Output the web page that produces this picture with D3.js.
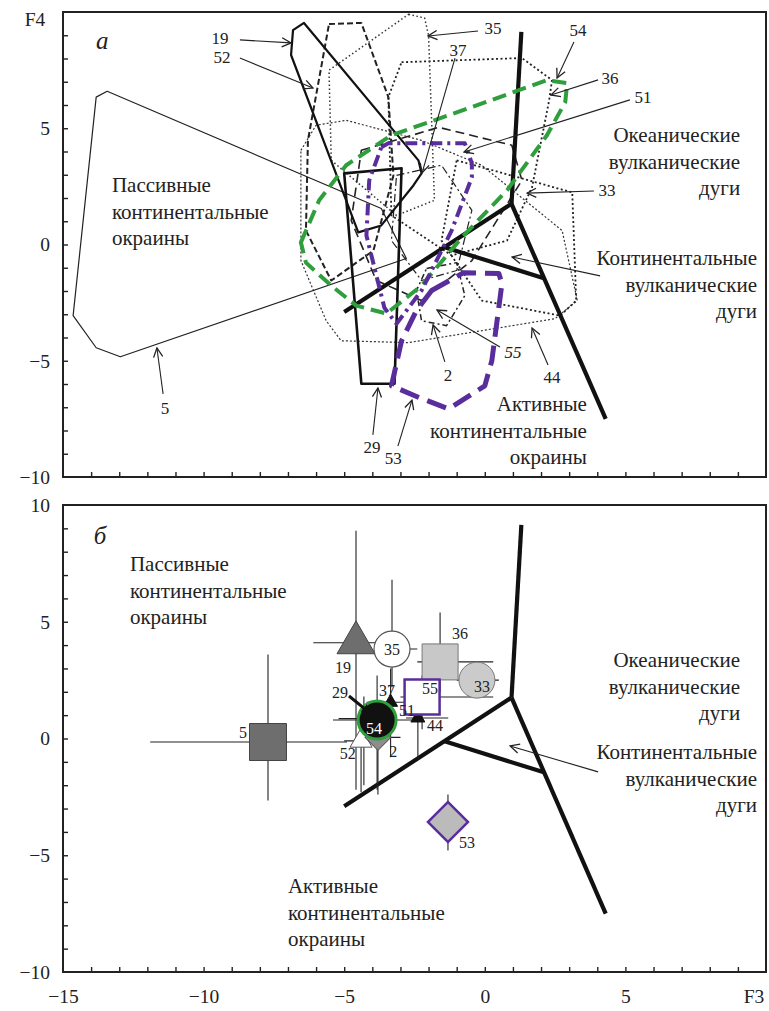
<!DOCTYPE html>
<html><head><meta charset="utf-8">
<script src="https://cdn.jsdelivr.net/npm/d3@7"></script>
<style>
body{margin:0;background:#fff}
svg{display:block}
svg text{font-family:"Liberation Serif","Tinos","DejaVu Serif","Times New Roman",serif !important;fill:#222}
</style>
</head><body>
<svg id="c" width="769" height="1011" font-family="Liberation Serif, DejaVu Serif, serif"></svg>
<script>
// ---------------- DATA ----------------
const xTickLabelValues = [-15, -10, -5, 0, 5];
const yTickLabelsA = [-10, -5, 0, 5];
const yTickLabelsB = [-10, -5, 0, 5, 10];
const axisTitles = ["F3", "F4"];

// discriminant boundaries (same in both panels)
const boundaryLines = [
  [[-5.0, -2.9], [0.95, 1.75]],
  [[0.95, 1.75], [1.3, 9.15]],
  [[0.95, 1.75], [4.3, -7.5]],
  [[-1.43, -0.12], [2.1, -1.45]]
];

// field outlines, panel a
const poly5  = [[-13.82,6.34],[-13.43,6.59],[-3.68,1.55],[-2.79,-0.6],[-12.96,-4.83],[-13.82,-4.44],[-14.64,-3.06]];
const poly19 = [[-6.43,9.53],[-6.82,9.22],[-6.89,8.15],[-4.5,0.52],[-3.68,0.82],[-2.54,2.54],[-2.25,3.06],[-2.36,3.62]];
const poly52 = [[-5.54,9.48],[-4.39,9.53],[-3.43,6.34],[-3.25,2.97],[-3.96,-0.26],[-5.46,-1.55],[-6.36,0.6],[-6.29,4.48]];
const poly35 = [[-2.71,9.9],[-2.14,9.74],[-2.0,9.0],[-1.79,1.9],[-3.14,1.25],[-5.46,3.62],[-5.54,7.5]];
const poly36 = [[-2.96,7.84],[1.32,8.02],[2.39,7.07],[2.29,6.21],[1.68,2.46],[0.79,0.17],[-1.18,-0.47],[-3.32,1.25],[-3.43,6.34]];
const poly33 = [[-1.0,3.62],[3.11,2.24],[3.25,-2.41],[2.68,-3.06],[-0.11,-2.41],[-1.54,0.17]];
const poly44 = [[-6.54,4.05],[-6.0,5.13],[-4.93,5.34],[-2.25,4.48],[-0.11,3.41],[2.75,0.6],[3.29,-2.41],[2.5,-3.19],[-2.71,-4.22],[-5.11,-4.14],[-5.64,-3.28],[-6.54,-0.69]];
const poly37 = [[-4.39,4.05],[-1.64,5.04],[0.96,4.27],[1.32,2.76],[-0.46,-0.69],[-2.25,-2.41],[-3.86,-1.55],[-4.75,1.03]];
const poly51 = [[-3.14,2.97],[-1.54,3.41],[-0.46,1.47],[-1.0,-1.12],[-2.25,-1.55],[-3.32,0.17]];
const poly2  = [[-2.07,-1.03],[-1.0,-0.78],[-0.71,-2.2],[-1.36,-3.49],[-2.25,-3.28],[-2.43,-1.98]];
const poly29 = [[-5.0,3.06],[-2.96,3.28],[-3.21,-5.99],[-4.39,-5.99]];
const poly54 = [[-6.54,0.09],[-5.89,1.9],[-4.93,3.41],[-3.32,4.7],[-0.46,5.91],[2.21,7.07],[2.93,6.94],[2.86,6.12],[2.21,4.7],[0.79,2.33],[-0.82,0.3],[-2.25,-1.77],[-3.5,-2.97],[-4.57,-2.63],[-5.46,-1.77],[-6.36,-0.78]];
const poly55 = [[-3.68,4.18],[-3.43,4.35],[-0.71,4.35],[-0.46,3.49],[-0.46,2.89],[-1.18,0.6],[-2.25,-1.98],[-3.14,-3.41],[-3.57,-2.72],[-4.21,0.39],[-4.11,2.76]];
const poly53 = [[-1.89,-1.98],[-0.75,-1.21],[0.5,-1.25],[0.61,-1.68],[0.25,-5.0],[0.0,-6.08],[-1.29,-7.07],[-2.32,-6.59],[-3.32,-6.08],[-2.96,-4.14],[-2.43,-2.84]];

const fieldIds = ["44","33","36","35","52","37","51","2","5","19","29","54","55","53"];
const fieldData = {"5":poly5,"19":poly19,"52":poly52,"35":poly35,"36":poly36,"33":poly33,"44":poly44,"37":poly37,"51":poly51,"2":poly2,"29":poly29,"54":poly54,"55":poly55,"53":poly53};

// panel a sample labels with pointers: [label, labelX, labelY, tailX, tailY, headX, headY]
const labelsA = [
  ["19", -9.42, 8.88, -8.71, 8.8, -6.89, 8.67],
  ["52", -9.35, 8.06, -8.71, 8.02, -6.11, 6.73],
  ["35", 0.29, 9.31, -0.24, 9.18, -2.02, 8.97],
  ["37", -0.95, 8.37, -1.06, 8.02, -2.23, 3.08],
  ["54", 3.31, 9.23, 3.17, 8.71, 2.57, 7.16],
  ["36", 4.45, 7.16, 4.03, 7.08, 2.35, 6.43],
  ["51", 5.63, 6.34, 5.16, 6.22, -0.74, 3.98],
  ["33", 4.35, 2.34, 3.88, 2.3, 1.5, 2.21],
  ["55", 1.0, -4.62, 0.54, -4.41, -1.7, -2.82],
  ["44", 2.39, -5.7, 2.25, -5.18, 1.68, -3.59],
  ["2", -1.31, -5.61, -1.42, -5.05, -1.84, -3.46],
  ["29", -4.01, -8.71, -3.98, -8.19, -3.8, -6.17],
  ["53", -3.26, -9.18, -3.09, -8.67, -2.59, -6.69],
  ["5", -11.37, -7.03, -11.44, -6.43, -11.66, -4.45]
];

// region names
const regionNames = [
  ["Пассивные", "континентальные", "окраины"],
  ["Океанические", "вулканические", "дуги"],
  ["Континентальные", "вулканические", "дуги"],
  ["Активные", "континентальные", "окраины"]
];
const regionPosA = [[-13.26, 2.56], [9.08, 4.71], [9.68, -0.58], [3.63, -6.86]];
const regionPosB = [[-12.62, 7.47], [9.08, 3.36], [9.68, -0.58], [-7.0, -6.32]];
const contArrowA = [4.1, -1.35, 0.97, -0.54];
const contArrowB = [4.03, -1.43, 0.9, -0.32];

// panel б: mean compositions with ranges
const ptIds  = ["5", "19", "35", "36", "33", "29", "52", "37", "44", "2", "55", "54", "53"];
const ptX    = [-7.71, -4.58, -3.30, -1.59, -0.28, -4.30, -4.40, -3.35, -2.38, -3.80, -2.23, -3.83, -1.31];
const ptY    = [-0.15, 4.10, 3.83, 3.28, 2.50, 0.85, -0.10, 1.55, 0.88, 0.05, 1.78, 0.79, -3.58];
const ptXLo  = [-11.9, -6.1, -3.9, -2.4, -1.0, -5.2, -5.0, -4.2, -2.8, -4.5, -3.0, -5.4, -1.6];
const ptXHi  = [-4.9, -3.0, -2.4, 0.3, 0.5, -4.0, -3.7, -2.8, -1.3, -3.0, 0.3, -2.5, -1.0];
const ptYLo  = [-2.65, -2.2, 2.2, 2.0, 2.0, -2.0, -2.3, -0.8, -0.9, -2.4, 0.4, -2.2, -4.8];
const ptYHi  = [3.6, 8.9, 6.8, 5.4, 3.0, 1.8, 1.0, 3.0, 2.1, 0.5, 2.7, 2.7, -2.4];
// label positions of the panel б numbers
const ptLabX = [-8.6, -5.04, -3.30, -0.88, -0.10, -5.15, -4.87, -3.48, -1.77, -3.26, -1.95, -3.94, -0.63];
const ptLabY = [0.28, 3.06, 3.83, 4.52, 2.25, 1.99, -0.62, 2.08, 0.58, -0.54, 2.16, 0.45, -4.43];
const label51 = ["51", -2.77, 1.22];
const arrow29 = [-4.83, 1.82, -4.08, 1.09];

// ---------------- STYLES ----------------
const FONT = '"Liberation Serif","Tinos","DejaVu Serif","Times New Roman",serif';
const GREEN = "#2f9e3c", PURPLE = "#5a2d9c";
const fieldStyle = {
  "5":  {stroke:"#222", w:1.2, dash:null},
  "19": {stroke:"#111", w:2.2, dash:null},
  "29": {stroke:"#111", w:2.6, dash:null},
  "52": {stroke:"#222", w:2, dash:"6,3"},
  "35": {stroke:"#333", w:1.5, dash:"1.5,2.5"},
  "36": {stroke:"#222", w:1.8, dash:"2,2.5"},
  "33": {stroke:"#222", w:1.8, dash:"2,2.5"},
  "44": {stroke:"#333", w:1.2, dash:"2,2"},
  "37": {stroke:"#222", w:1.6, dash:"9,5"},
  "51": {stroke:"#222", w:1.2, dash:"8,3,2,3"},
  "2":  {stroke:"#222", w:1.5, dash:"6,3,2,3"},
  "54": {stroke:GREEN, w:4, dash:"14,7"},
  "55": {stroke:PURPLE, w:4, dash:"12,5,3,5"},
  "53": {stroke:PURPLE, w:5, dash:"20,9"}
};
const ptStyle = {
  "5":  {type:"square", size:37, fill:"#6e6e6e", stroke:"#444", sw:1},
  "19": {type:"triangle", size:38, fill:"#6e6e6e", stroke:"#444", sw:1},
  "35": {type:"circle", size:36, fill:"#fff", stroke:"#555", sw:1.2},
  "36": {type:"square", size:36, fill:"#c8c8c8", stroke:"#777", sw:1},
  "33": {type:"circle", size:36, fill:"#cbcbcb", stroke:"#777", sw:1},
  "29": {type:"none"},
  "52": {type:"triangle", size:22, fill:"#fff", stroke:"#555", sw:1},
  "37": {type:"triangle", size:14, fill:"#111", stroke:"#111", sw:1},
  "44": {type:"triangle", size:14, fill:"#111", stroke:"#111", sw:1},
  "2":  {type:"diamond", size:26, fill:"#8d8d8d", stroke:"#555", sw:1},
  "55": {type:"square", size:35, fill:"#fff", stroke:PURPLE, sw:2.5},
  "54": {type:"circle", size:38, fill:"#111", stroke:GREEN, sw:3},
  "53": {type:"diamond", size:40, fill:"#bbbbbb", stroke:PURPLE, sw:2.5}
};

// ---------------- DRAW ----------------
const svg = d3.select("#c");
const x  = d3.scaleLinear().domain([-15, 10]).range([63, 766]);
const yA = d3.scaleLinear().domain([-10, 10]).range([477, 12]);
const yB = d3.scaleLinear().domain([-10, 10]).range([972, 505]);

const defs = svg.append("defs");
defs.append("marker").attr("id","ah").attr("viewBox","0 0 12 12").attr("refX",11).attr("refY",6)
  .attr("markerWidth",11).attr("markerHeight",11).attr("markerUnits","userSpaceOnUse").attr("orient","auto")
  .append("path").attr("d","M1,1 L11,6 L1,11").attr("fill","none").attr("stroke","#222").attr("stroke-width",1.4);
defs.append("marker").attr("id","ahb").attr("viewBox","0 0 12 12").attr("refX",11).attr("refY",6)
  .attr("markerWidth",9).attr("markerHeight",9).attr("markerUnits","userSpaceOnUse").attr("orient","auto")
  .append("path").attr("d","M0,0 L12,6 L0,12 Z").attr("fill","#111");

function drawAxes(y, labels, showX) {
  const ax = svg.append("g").attr("transform", `translate(${x(-15)},0)`)
    .call(d3.axisLeft(y).tickValues(d3.range(-9, 10)).tickSize(-5).tickPadding(13)
      .tickFormat(d => labels.includes(d) ? d3.format("")(d) : ""));
  ax.select(".domain").remove();
  svg.append("g").attr("transform", `translate(${x(-15)},0)`)
    .call(d3.axisLeft(y).tickValues(labels.filter(d => d === -10 || d === 10)).tickSize(0).tickPadding(13)
      .tickFormat(d3.format("")))
    .select(".domain").remove();
  const bx = svg.append("g").attr("transform", `translate(0,${y(-10)})`)
    .call(d3.axisBottom(x).tickValues(d3.range(-14, 10)).tickSize(-5).tickPadding(17)
      .tickFormat(d => showX && xTickLabelValues.includes(d) ? d3.format("")(d) : ""));
  bx.select(".domain").remove();
  if (showX) {
    svg.append("g").attr("transform", `translate(0,${y(-10)})`)
      .call(d3.axisBottom(x).tickValues([-15]).tickSize(0).tickPadding(17).tickFormat(d3.format("")))
      .select(".domain").remove();
  }
  svg.selectAll("g").attr("font-family", null);
  svg.selectAll(".tick text").attr("font-size", 19.5).attr("fill", "#222");
  svg.selectAll(".tick line").attr("stroke", "#222").attr("stroke-width", 1.4);
  svg.append("rect").attr("x", x(-15)).attr("y", y(10)).attr("width", x(10) - x(-15)).attr("height", y(-10) - y(10))
    .attr("fill", "none").attr("stroke", "#222").attr("stroke-width", 2);
}

function drawBoundaries(y) {
  svg.append("g").selectAll("line").data(boundaryLines).join("line")
    .attr("x1", d => x(d[0][0])).attr("y1", d => y(d[0][1]))
    .attr("x2", d => x(d[1][0])).attr("y2", d => y(d[1][1]))
    .attr("stroke", "#111").attr("stroke-width", 4.2).attr("stroke-linecap", "butt");
}

function drawRegions(y, pos, arrow) {
  const g = svg.append("g");
  regionNames.forEach((lines, i) => {
    const anchor = (i === 1 || i === 2 || (i === 3 && y === yA)) ? "end" : "start";
    lines.forEach((t, j) => {
      g.append("text").attr("x", x(pos[i][0])).attr("y", y(pos[i][1]) + j * 26.5)
        .attr("dy", "0.35em").attr("text-anchor", anchor).attr("font-size", 21).text(t);
    });
  });
  g.append("line").attr("x1", x(arrow[0])).attr("y1", y(arrow[1])).attr("x2", x(arrow[2])).attr("y2", y(arrow[3]))
    .attr("stroke", "#222").attr("stroke-width", 1.1).attr("marker-end", "url(#ah)");
}

// ----- panel a -----
const lineGen = d3.line().x(d => x(d[0])).y(d => yA(d[1])).curve(d3.curveLinearClosed);
const gFields = svg.append("g");
function drawField(id) {
  const s = fieldStyle[id];
  gFields.append("path").attr("d", lineGen(fieldData[id])).attr("fill", "none")
    .attr("stroke", s.stroke).attr("stroke-width", s.w).attr("stroke-dasharray", s.dash)
    .attr("stroke-linejoin", "round");
}
fieldIds.filter(id => !["54","55","53"].includes(id)).forEach(drawField);
drawBoundaries(yA);
const gFields2 = svg.append("g");
["54","55","53"].forEach(id => {
  const s = fieldStyle[id];
  gFields2.append("path").attr("d", lineGen(fieldData[id])).attr("fill", "none")
    .attr("stroke", s.stroke).attr("stroke-width", s.w).attr("stroke-dasharray", s.dash)
    .attr("stroke-linejoin", "round");
});
svg.append("g").selectAll("line").data(labelsA).join("line")
  .attr("x1", d => x(d[3])).attr("y1", d => yA(d[4])).attr("x2", d => x(d[5])).attr("y2", d => yA(d[6]))
  .attr("stroke", "#222").attr("stroke-width", 1.1).attr("marker-end", "url(#ah)");
svg.append("g").selectAll("text").data(labelsA).join("text")
  .attr("x", d => x(d[1])).attr("y", d => yA(d[2])).attr("dy", "0.35em").attr("text-anchor", "middle")
  .attr("font-size", 17).attr("font-style", d => d[0] === "55" ? "italic" : null).text(d => d[0]);
drawRegions(yA, regionPosA, contArrowA);
drawAxes(yA, yTickLabelsA, false);
svg.append("text").attr("x", 35).attr("y", yA(10) + 7).attr("dy", "0.35em").attr("text-anchor", "middle")
  .attr("font-size", 19.5).text(axisTitles[1]);
svg.append("text").attr("x", x(-13.6)).attr("y", yA(8.8)).attr("dy", "0.35em").attr("text-anchor", "middle")
  .attr("font-size", 25).attr("font-style", "italic").text("а");

// ----- panel б -----
drawBoundaries(yB);
const gErr = svg.append("g").attr("stroke", "#222").attr("stroke-width", 1.1);
ptIds.forEach((id, i) => {
  gErr.append("line").attr("x1", x(ptXLo[i])).attr("x2", x(ptXHi[i])).attr("y1", yB(ptY[i])).attr("y2", yB(ptY[i]));
  gErr.append("line").attr("x1", x(ptX[i])).attr("x2", x(ptX[i])).attr("y1", yB(ptYLo[i])).attr("y2", yB(ptYHi[i]));
});
const gPts = svg.append("g");
ptIds.forEach((id, i) => {
  const s = ptStyle[id];
  const cx = x(ptX[i]), cy = yB(ptY[i]);
  let sym = null, area = 0, rot = 0;
  if (s.type === "square") { sym = d3.symbolSquare; area = s.size * s.size; }
  if (s.type === "circle") { sym = d3.symbolCircle; area = Math.PI * (s.size / 2) ** 2; }
  if (s.type === "triangle") { sym = d3.symbolTriangle; area = Math.sqrt(3) / 4 * s.size * s.size; }
  if (s.type === "diamond") { sym = d3.symbolSquare; area = (s.size / Math.SQRT2) ** 2; rot = 45; }
  if (!sym) return;
  gPts.append("path").attr("d", d3.symbol(sym, area)())
    .attr("transform", `translate(${cx},${cy}) rotate(${rot})`)
    .attr("fill", s.fill).attr("stroke", s.stroke).attr("stroke-width", s.sw);
});
svg.append("line").attr("x1", x(arrow29[0])).attr("y1", yB(arrow29[1])).attr("x2", x(arrow29[2])).attr("y2", yB(arrow29[3]))
  .attr("stroke", "#111").attr("stroke-width", 3).attr("marker-end", "url(#ahb)");
svg.append("g").selectAll("text").data(ptIds).join("text")
  .attr("x", (d, i) => x(ptLabX[i])).attr("y", (d, i) => yB(ptLabY[i])).attr("dy", "0.35em")
  .attr("text-anchor", "middle").attr("font-size", 16)
  .style("fill", d => d === "54" ? "#fff" : "#222").text(d => d);
svg.append("text").attr("x", x(label51[1])).attr("y", yB(label51[2])).attr("dy", "0.35em")
  .attr("text-anchor", "middle").attr("font-size", 16).text(label51[0]);
drawRegions(yB, regionPosB, contArrowB);
drawAxes(yB, yTickLabelsB, true);
svg.append("text").attr("x", 754).attr("y", yB(-10) + 17).attr("dy", "0.71em").attr("text-anchor", "middle")
  .attr("font-size", 19.5).text(axisTitles[0]);
svg.append("text").attr("x", x(-13.68)).attr("y", yB(8.72)).attr("dy", "0.35em").attr("text-anchor", "middle")
  .attr("font-size", 25).attr("font-style", "italic").text("б");
svg.selectAll("text").attr("font-family", FONT);
</script>
</body></html>
